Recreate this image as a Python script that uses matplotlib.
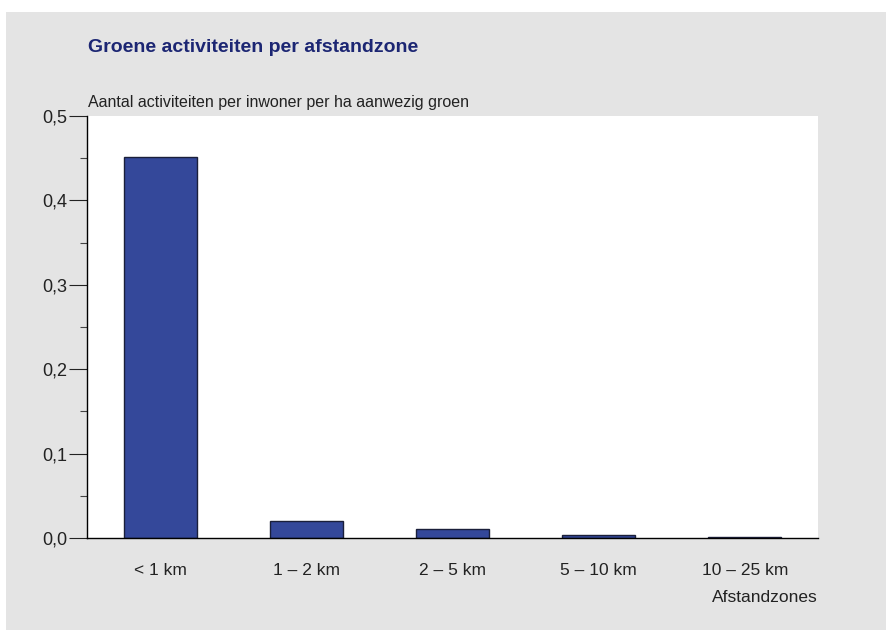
import numpy as np
import matplotlib
matplotlib.use("Agg")
import matplotlib.pyplot as plt
from matplotlib.patches import Rectangle
from matplotlib.ticker import MultipleLocator, FuncFormatter

zones = ["< 1 km", "1 – 2 km", "2 – 5 km", "5 – 10 km", "10 – 25 km"]
activities = [0.451, 0.020, 0.0105, 0.0035, 0.0012]

plt.rcParams["font.family"] = ["Liberation Sans Narrow", "Liberation Sans", "DejaVu Sans"]

fig = plt.figure(figsize=(8.87, 6.30), dpi=100)
fig.patch.set_facecolor("white")
# grey panel behind everything
fig.patches.append(Rectangle((6 / 887, 0), 1, 1 - 12 / 630, transform=fig.transFigure,
                             facecolor="#e4e4e4", edgecolor="none", zorder=-10))

ax = fig.add_axes([87 / 887, 1 - 538 / 630, (818 - 87) / 887, (538 - 116) / 630])
ax.set_facecolor("white")

x = np.arange(len(zones))
ax.bar(x, activities, width=0.5, color="#34489a", edgecolor="#1a1f3a", linewidth=1.0)

ax.set_xlim(-0.5, len(zones) - 0.5)
ax.set_ylim(0, 0.5)
ax.set_xticks(x)
ax.set_xticklabels(zones, fontsize=12.5, color="#222222")
ax.tick_params(axis="x", length=0, pad=18)

ax.yaxis.set_major_locator(MultipleLocator(0.1))
ax.yaxis.set_minor_locator(MultipleLocator(0.05))
ax.yaxis.set_major_formatter(FuncFormatter(lambda v, _: f"{v:.1f}".replace(".", ",")))
ax.tick_params(axis="y", which="major", length=13, width=0.8, labelsize=13,
               pad=1, colors="#222222")
ax.tick_params(axis="y", which="minor", length=5, width=0.8, colors="#444444")

for side in ("top", "right"):
    ax.spines[side].set_visible(False)
ax.spines["left"].set_linewidth(1.0)
ax.spines["bottom"].set_linewidth(1.0)

fig.text(88 / 887, 1 - 47 / 630, "Groene activiteiten per afstandzone", fontsize=14,
         fontweight="bold", color="#1c2673", va="center", ha="left")
fig.text(88 / 887, 1 - 102 / 630, "Aantal activiteiten per inwoner per ha aanwezig groen",
         fontsize=11.5, color="#222222", va="center", ha="left")
ax.text(1.0, -0.14, "Afstandzones", transform=ax.transAxes, fontsize=12.5,
        color="#222222", ha="right", va="center")

fig.savefig("out.png", dpi=100)
